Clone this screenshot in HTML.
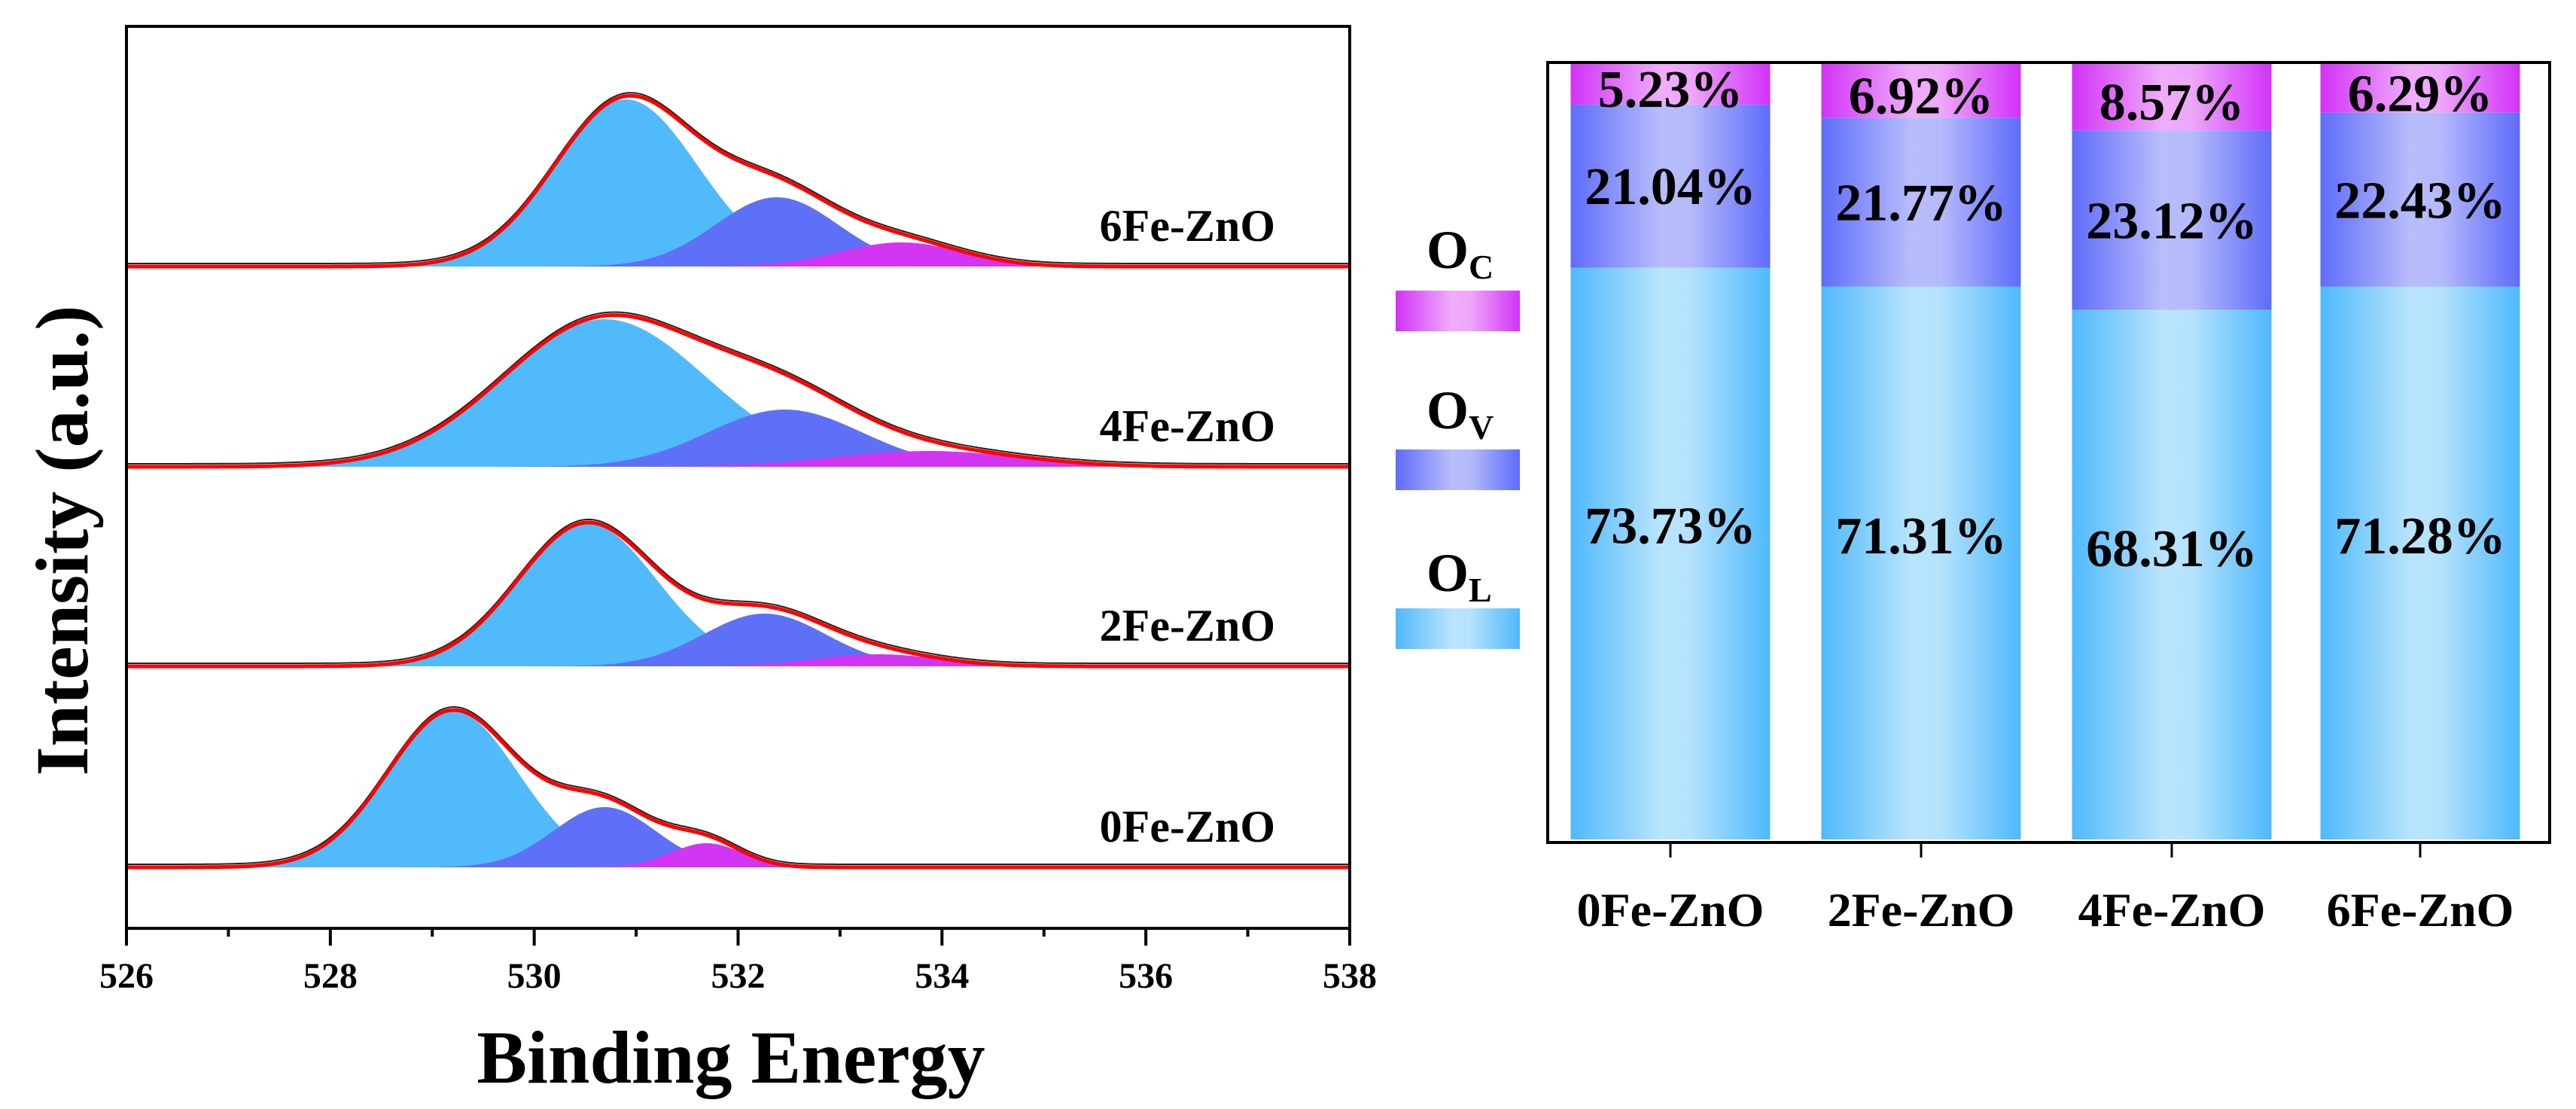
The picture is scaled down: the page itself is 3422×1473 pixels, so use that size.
<!DOCTYPE html>
<html><head><meta charset="utf-8"><style>
html,body{margin:0;padding:0;background:#fff}
svg{display:block}
svg text{font-family:"Liberation Serif","Times New Roman",serif;font-weight:bold}
</style></head><body>
<svg id="c" width="3422" height="1473" viewBox="0 0 3422 1473" xmlns="http://www.w3.org/2000/svg" font-family="Liberation Serif, serif" font-weight="bold">
<defs>
<linearGradient id="gL" x1="0" x2="1" y1="0" y2="0"><stop offset="0" stop-color="#4FB9FC"/><stop offset="0.45" stop-color="#B8E4FD"/><stop offset="0.6" stop-color="#B5E2FD"/><stop offset="1" stop-color="#4FB9FC"/></linearGradient>
<linearGradient id="gV" x1="0" x2="1" y1="0" y2="0"><stop offset="0" stop-color="#5E6CF9"/><stop offset="0.45" stop-color="#B8BDFB"/><stop offset="0.6" stop-color="#B5BAFB"/><stop offset="1" stop-color="#5E6CF9"/></linearGradient>
<linearGradient id="gC" x1="0" x2="1" y1="0" y2="0"><stop offset="0" stop-color="#D232F8"/><stop offset="0.45" stop-color="#EFADF9"/><stop offset="0.6" stop-color="#EDA8F9"/><stop offset="1" stop-color="#D232F8"/></linearGradient>
</defs>
<g id="left"></g>
<g id="right"></g>
</svg>
<script>
// ---- XPS data (peak parameters per sample: center eV, height px, sigma eV) ----
const samples = ["6Fe-ZnO","4Fe-ZnO","2Fe-ZnO","0Fe-ZnO"];
const olCenter = [530.9, 530.69, 530.52, 529.2];
const olHeight = [222, 196, 190, 208];
const olSigma  = [0.70, 1.0, 0.68, 0.64];
const ovCenter = [532.38, 532.46, 532.26, 530.69];
const ovHeight = [92, 76, 70, 80];
const ovSigma  = [0.60, 0.75, 0.60, 0.50];
const ocCenter = [533.6, 533.87, 533.38, 531.69];
const ocHeight = [32, 21, 16, 32];
const ocSigma  = [0.60, 0.90, 0.60, 0.35];
const baselines = [354, 620, 885, 1152];
const xTicks = [526,528,530,532,534,536,538];

// ---- bar data ----
const barCats = ["0Fe-ZnO","2Fe-ZnO","4Fe-ZnO","6Fe-ZnO"];
const OL = [73.73, 71.31, 68.31, 71.28];
const OV = [21.04, 21.77, 23.12, 22.43];
const OC = [5.23, 6.92, 8.57, 6.29];

const NS="http://www.w3.org/2000/svg";
const FF="Liberation Serif, Times New Roman, serif";
function mk(tag, attrs, parent, txt){const e=document.createElementNS(NS,tag);for(const k in attrs)e.setAttribute(k,attrs[k]);if(tag==='text'){e.setAttribute('font-family',FF);e.setAttribute('font-weight','bold');}if(txt!==undefined)e.textContent=txt;parent.appendChild(e);return e;}

// ===== Left panel =====
const L=document.getElementById('left');
const X0=168,X1=1793,Y0=35,Y1=1233;
const xs=v=>X0+(v-526)/12*(X1-X0);
const gauss=(x,c,h,s)=>h*Math.exp(-0.5*((x-c)/s)**2);
const comps=[["#50BAFB",olCenter,olHeight,olSigma],["#5F70F8",ovCenter,ovHeight,ovSigma],["#D236F2",ocCenter,ocHeight,ocSigma]];
const compNames=["ol-peak","ov-peak","oc-peak"];
samples.forEach((s,i)=>{
  const b=baselines[i];
  const g=mk('g',{},L);
  
  
  comps.forEach((cp,j)=>{
    let d=`M${xs(526)},${b}`;
    for(let x=526;x<=538.0001;x+=0.02){d+=` L${xs(x).toFixed(1)},${(b-gauss(x,cp[1][i],cp[2][i],cp[3][i])).toFixed(1)}`;}
    d+=` L${xs(538)},${b} Z`;
    const p=mk('path',{d:d,fill:cp[0]},g);
    
    
  });
  let dr='',dk='';
  for(let x=526;x<=538.0001;x+=0.02){
    let y=0;comps.forEach(cp=>{y+=gauss(x,cp[1][i],cp[2][i],cp[3][i]);});
    const px=xs(x).toFixed(1);
    dr+=(dr?' L':'M')+px+','+(b-y).toFixed(1);
    dk+=(dk?' L':'M')+px+','+(b-y-4).toFixed(1);
  }
  const k=mk('path',{d:dk,fill:'none',stroke:'#222','stroke-width':2},g);
  
  
  const r=mk('path',{d:dr,fill:'none',stroke:'#FF0000','stroke-width':5},g);
  
  
  const t=mk('text',{x:1694,y:b-54+20,'text-anchor':'end','font-size':60},g,s);
  
  
});
const fr=mk('rect',{x:X0,y:Y0,width:X1-X0,height:Y1-Y0,fill:'none',stroke:'#000','stroke-width':4},L);


for(let v=526;v<=538;v++){
  const major=v%2===0;
  const tk=mk('line',{x1:xs(v),x2:xs(v),y1:Y1,y2:Y1+(major?23:11),stroke:'#000','stroke-width':4},L);
  
  
}
xTicks.forEach(v=>{
  const t=mk('text',{x:xs(v),y:1312,'text-anchor':'middle','font-size':48},L,String(v));
  
  
});
const xt=mk('text',{x:971,y:1438,'text-anchor':'middle','font-size':100},L,'Binding Energy');


const yt=mk('text',{x:0,y:0,'text-anchor':'middle','font-size':100,transform:'translate(116,718) rotate(-90)'},L,'Intensity (a.u.)');



// ===== Right panel =====
const R=document.getElementById('right');
const BX0=2056,BX1=3387,BY0=83,BY1=1119,BT=85,BB=1115;
const centers=[2219,2552,2885,3215],BW=265;
const ys=p=>BB-p/100*(BB-BT);
barCats.forEach((c,i)=>{
  const g=mk('g',{},R);
  
  
  const x=centers[i]-BW/2;
  const segs=[[OL[i],0,'url(#gL)','ol'],[OV[i],OL[i],'url(#gV)','ov'],[OC[i],OL[i]+OV[i],'url(#gC)','oc']];
  segs.forEach(sg=>{
    const top=Math.max(ys(sg[1]+sg[0]),BT),bot=ys(sg[1]);
    const r=mk('rect',{x:x,y:top,width:BW,height:bot-top,fill:sg[2]},g);
    
    
  });
  const labs=[[OL[i],ys(OL[i])+ (ys(0)-ys(OL[i]))*0.45],[OV[i],(ys(OL[i])+ys(OL[i]+OV[i]))/2],[OC[i],(Math.max(ys(100),BT)+ys(OL[i]+OV[i]))/2+6]];
  labs.forEach((lb,j)=>{
    const t=mk('text',{x:centers[i],y:lb[1]+24,'text-anchor':'middle','font-size':70},g,lb[0].toFixed(2)+'%');
    
    
  });
  const tk=mk('line',{x1:centers[i],x2:centers[i],y1:BY1,y2:BY1+20,stroke:'#000','stroke-width':3},R);
  
  
  const ct=mk('text',{x:centers[i],y:1230,'text-anchor':'middle','font-size':64},R,c);
  
  
});
const bf=mk('rect',{x:BX0,y:BY0,width:BX1-BX0,height:BY1-BY0,fill:'none',stroke:'#000','stroke-width':4},R);


// legend
const leg=[["C",'url(#gC)',386,356],["V",'url(#gV)',597,569],["L",'url(#gL)',808,785]];
leg.forEach(l=>{
  const g=mk('g',{},R);
  
  
  mk('rect',{x:1854,y:l[2],width:165,height:54,fill:l[1]},g);
  const t=mk('text',{x:1895,y:l[3],'font-size':72},g);
  mk('tspan',{},t,'O');
  mk('tspan',{'font-size':46,dy:14},t,l[0]);
});
</script>
</body></html>
